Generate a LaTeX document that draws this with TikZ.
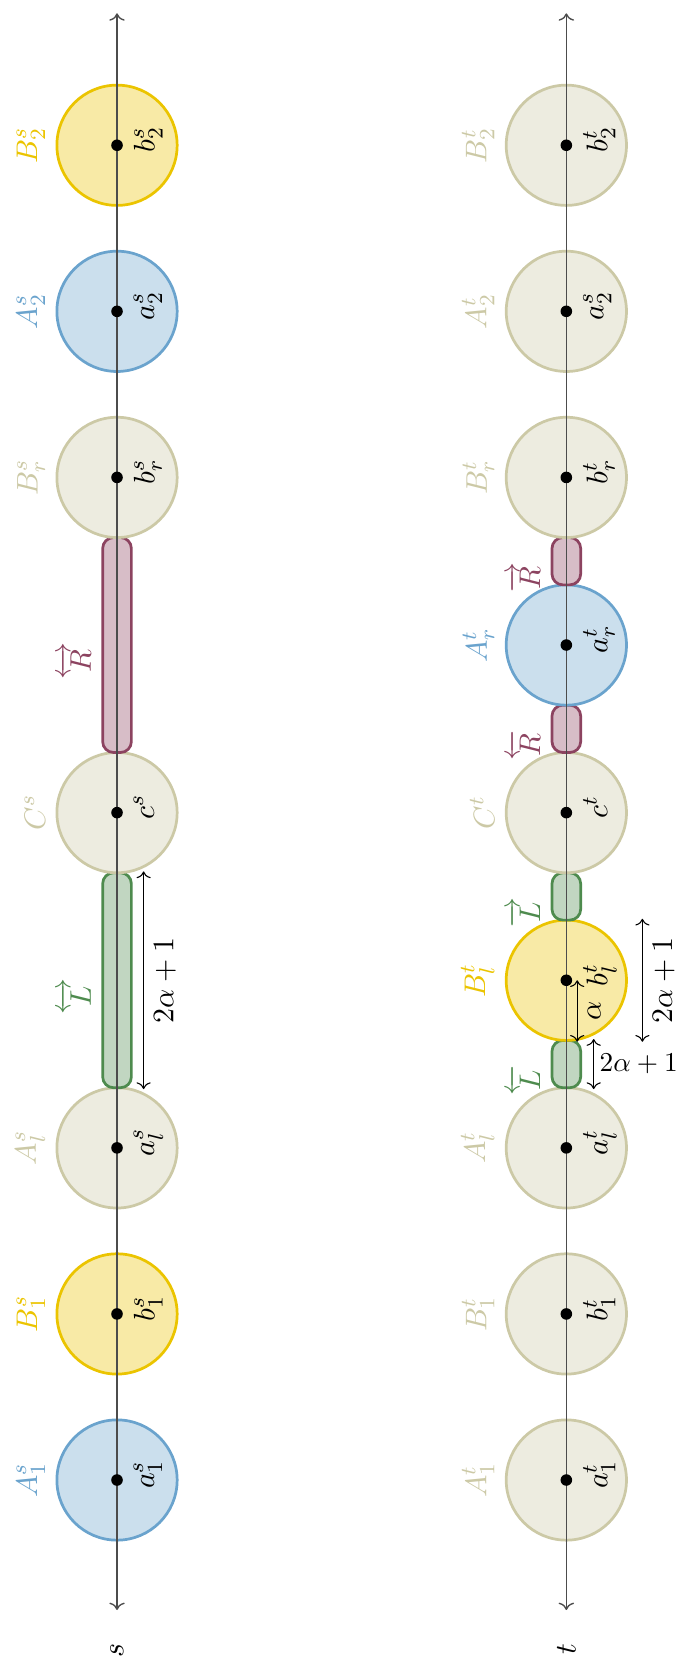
\documentclass[tikz,border=0pt,11pt]{standalone}
\usepackage{amsmath, amssymb}
\usepackage{xcolor}
\usepackage{tikz}
\usetikzlibrary{arrows.meta, positioning, calc}
\definecolor{setblue}{HTML}{6AA3CD}
\definecolor{setyellow}{HTML}{EBC400}
\definecolor{setgray}{HTML}{CCC9A6}
\definecolor{gapgreen}{HTML}{4E8B4E}
\definecolor{gapred}{HTML}{8C4360}

\begin{document}
\begin{tikzpicture}[
    rotate=90, transform shape,
    ball/.style={circle, draw=#1, fill=#1!35, line width=1pt, minimum size=1.55cm, inner sep=0pt},
    gap/.style={rectangle, rounded corners=4pt, draw=#1, fill=#1!35, line width=1pt, minimum height=0.37cm, inner sep=0pt},
    dot/.style={circle, fill=black, inner sep=1.5pt},
    axis/.style={black!70, line width=0.5pt},
    dim/.style={<->, line width=0.4pt},
    up/.style={text=#1, anchor=south},
    gapup/.style={text=#1, anchor=south, label distance=6pt},
    down/.style={anchor=north, label distance=2pt},
]
    \useasboundingbox (-2.345,-7.281) rectangle (19.072,1.508);

    % row s
    \node[ball=setblue, label={[up=setblue]above:$A_1^s$}] (A1s) at (0,0) {};
    \node[ball=setyellow, label={[up=setyellow]above:$B_1^s$}] (B1s) at (2.14,0) {};
    \node[ball=setgray, label={[up=setgray]above:$A_l^s$}] (Als) at (4.28,0) {};
    \node[gap=gapgreen, minimum width=2.77cm, label={[gapup=gapgreen]above:$\overleftrightarrow{L}$}] (Ls) at (6.44,0) {};
    \node[ball=setgray, label={[up=setgray]above:$C^s$}] (Cs) at (8.60,0) {};
    \node[gap=gapred, minimum width=2.77cm, label={[gapup=gapred]above:$\overleftrightarrow{R}$}] (Rs) at (10.76,0) {};
    \node[ball=setgray, label={[up=setgray]above:$B_r^s$}] (Brs) at (12.92,0) {};
    \node[ball=setblue, label={[up=setblue]above:$A_2^s$}] (A2s) at (15.06,0) {};
    \node[ball=setyellow, label={[up=setyellow]above:$B_2^s$}] (B2s) at (17.20,0) {};

    % row t
    \node[ball=setgray, label={[up=setgray]above:$A_1^t$}] (A1t) at (0,-5.79) {};
    \node[ball=setgray, label={[up=setgray]above:$B_1^t$}] (B1t) at (2.14,-5.79) {};
    \node[ball=setgray, label={[up=setgray]above:$A_l^t$}] (Alt) at (4.28,-5.79) {};
    \node[gap=gapgreen, minimum width=0.61cm, label={[gapup=gapgreen]above:$\overleftarrow{L}$}] (Lt1) at (5.36,-5.79) {};
    \node[ball=setyellow, label={[up=setyellow]above:$B_l^t$}] (Blt) at (6.44,-5.79) {};
    \node[gap=gapgreen, minimum width=0.61cm, label={[gapup=gapgreen]above:$\overrightarrow{L}$}] (Lt2) at (7.52,-5.79) {};
    \node[ball=setgray, label={[up=setgray]above:$C^t$}] (Cct) at (8.60,-5.79) {};
    \node[gap=gapred, minimum width=0.61cm, label={[gapup=gapred]above:$\overleftarrow{R}$}] (Rt1) at (9.68,-5.79) {};
    \node[ball=setblue, label={[up=setblue]above:$A_r^t$}] (Art) at (10.76,-5.79) {};
    \node[gap=gapred, minimum width=0.61cm, label={[gapup=gapred]above:$\overrightarrow{R}$}] (Rt2) at (11.84,-5.79) {};
    \node[ball=setgray, label={[up=setgray]above:$B_r^t$}] (Brt) at (12.92,-5.79) {};
    \node[ball=setgray, label={[up=setgray]above:$A_2^t$}] (A2t) at (15.06,-5.79) {};
    \node[ball=setgray, label={[up=setgray]above:$B_2^t$}] (B2t) at (17.20,-5.79) {};

    % the two lines
    \coordinate (s0) at (-1.675,0);
    \coordinate (s1) at (18.90,0);
    \coordinate (t0) at (-1.675,-5.79);
    \coordinate (t1) at (18.90,-5.79);
    \draw[axis, <->] (s0) -- (s1);
    \draw[axis, <->] (t0) -- (t1);
    \node[left=0.3cm of s0] (slabel) {$s$};
    \node[left=0.3cm of t0] (tlabel) {$t$};

    % points
    \node[dot, label={[down]below:$a_1^s$}] (a1s) at (A1s) {};
    \node[dot, label={[down]below:$b_1^s$}] (b1s) at (B1s) {};
    \node[dot, label={[down]below:$a_l^s$}] (als) at (Als) {};
    \node[dot, label={[down]below:$c^s$}] (cs) at (Cs) {};
    \node[dot, label={[down]below:$b_r^s$}] (brs) at (Brs) {};
    \node[dot, label={[down]below:$a_2^s$}] (a2s) at (A2s) {};
    \node[dot, label={[down]below:$b_2^s$}] (b2s) at (B2s) {};
    \node[dot, label={[down]below:$a_1^t$}] (a1t) at (A1t) {};
    \node[dot, label={[down]below:$b_1^t$}] (b1t) at (B1t) {};
    \node[dot, label={[down]below:$a_l^t$}] (alt) at (Alt) {};
    \node[dot, label={[down]below:$b_l^t$}] (blt) at (Blt) {};
    \node[dot, label={[down]below:$c^t$}] (ct) at (Cct) {};
    \node[dot, label={[down]below:$a_r^t$}] (art) at (Art) {};
    \node[dot, label={[down]below:$b_r^t$}] (brt) at (Brt) {};
    \node[dot, label={[down]below:$a_2^s$}] (a2t) at (A2t) {};
    \node[dot, label={[down]below:$b_2^t$}] (b2t) at (B2t) {};

    % lengths
    \draw[dim] ($(Ls.south west)+(0,-0.14)$) -- ($(Ls.south east)+(0,-0.14)$) node[midway, below] {$2\alpha+1$};
    \draw[dim] ($(Blt.west)+(0,-0.98)$) -- ($(Blt.east)+(0,-0.98)$) node[midway, below] {$2\alpha+1$};
    \draw[dim] ($(Lt1.south west)+(0,-0.15)$) -- ($(Lt1.south east)+(0,-0.15)$) node[midway, anchor=west, rotate=-90, inner sep=2pt, font=\small] {$2\alpha+1$};
    \draw[dim] ($(blt)+(0,-0.14)$) -- ($(Blt.west)+(0,-0.14)$) node[midway, below] {$\alpha$};
\end{tikzpicture}
\end{document}
